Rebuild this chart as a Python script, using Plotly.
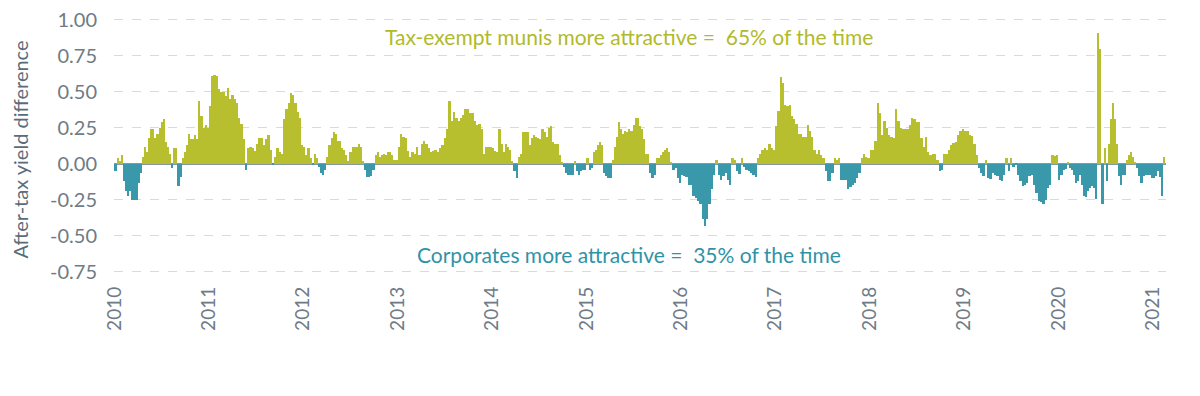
import plotly.graph_objects as go

# After-tax yield difference (munis minus corporates), by year
years = [2010, 2011, 2012, 2013, 2014, 2015, 2016, 2017, 2018, 2019, 2020, 2021]

y2010 = [-0.05, 0.04, 0.02, 0.06, -0.12, -0.185, -0.225, -0.19, -0.25, -0.25, -0.25, -0.13, -0.06, 0.05,
         0.12, 0.08, 0.18, 0.24, 0.24, 0.18, 0.21, 0.25, 0.29, 0.31, 0.15, 0.12, 0.07, -0.03, 0.11, 0.11,
         -0.155, -0.09, 0.04, 0.08, 0.13, 0.21, 0.17, 0.17, 0.20, 0.17, 0.44, 0.33, 0.25, 0.27, 0.25]
y2011 = [0.40, 0.61, 0.62, 0.61, 0.52, 0.50, 0.50, 0.47, 0.53, 0.45, 0.48, 0.45, 0.42, 0.32, 0.28, 0.17,
         -0.04, 0.11, 0.12, 0.11, 0.09, 0.14, 0.18, 0.18, 0.13, 0.17, 0.20, 0.10, -0.01, 0.05, 0.11, 0.08,
         0.07, 0.31, 0.38, 0.42, 0.49, 0.48, 0.42, 0.36, 0.32, 0.13]
y2012 = [0.12, 0.06, 0.11, 0.04, -0.01, 0.07, 0.04, -0.02, -0.06, -0.075, -0.04, 0.05, 0.13, 0.18, 0.22,
         0.21, 0.16, 0.16, 0.11, 0.095, 0.06, 0.02, 0.08, 0.12, 0.12, 0.12, 0.14, 0.12, 0.02, -0.04, -0.09,
         -0.09, -0.085, -0.04, 0.065, 0.08, 0.05, 0.06, 0.07, 0.06, 0.08, 0.08, 0.06, 0.03, 0.03]
y2013 = [0.12, 0.21, 0.19, 0.18, 0.09, 0.05, 0.08, 0.07, 0.12, 0.06, 0.14, 0.16, 0.14, 0.11, 0.08, 0.09,
         0.10, 0.08, 0.11, 0.13, 0.18, 0.24, 0.44, 0.30, 0.36, 0.32, 0.30, 0.32, 0.34, 0.38, 0.38, 0.35,
         0.355, 0.30, 0.27, 0.28, 0.24, 0.07, 0.12, 0.12, 0.12]
y2014 = [0.11, 0.09, 0.08, 0.24, 0.14, 0.08, 0.14, 0.12, 0.10, 0.02, -0.05, -0.10, 0.05, 0.07, 0.22, 0.22,
         0.22, 0.13, 0.18, 0.20, 0.19, 0.18, 0.17, 0.245, 0.22, 0.19, 0.25, 0.26, 0.15, 0.14, 0.14, 0.06,
         0.01, -0.02, -0.06, -0.08, -0.075, -0.08, 0.02, -0.05, -0.075, -0.05, -0.04, -0.04]
y2015 = [0.04, -0.04, -0.03, 0.08, 0.10, 0.13, 0.15, 0.13, -0.06, -0.085, -0.10, -0.10, 0.03, 0.12, 0.19,
         0.29, 0.24, 0.21, 0.23, 0.22, 0.24, 0.23, 0.27, 0.32, 0.32, 0.26, 0.24, 0.17, 0.07, 0.07, -0.06,
         -0.10, -0.075, 0.04, 0.04, 0.06, 0.08, 0.10, 0.11, 0.08, 0.01, -0.04, -0.03, -0.10, -0.13]
y2016 = [-0.075, -0.085, -0.09, -0.145, -0.145, -0.225, -0.235, -0.26, -0.275, -0.385, -0.43, -0.385,
         -0.275, -0.175, -0.075, 0.025, -0.075, -0.115, -0.085, -0.06, -0.115, -0.145, 0.04, 0.03, -0.05,
         -0.07, 0.04, -0.02, -0.04, -0.05, -0.06, -0.075, -0.09, 0.04, 0.07, 0.095, 0.11, 0.095, 0.14,
         0.11, 0.095]
y2017 = [0.26, 0.365, 0.60, 0.56, 0.41, 0.40, 0.41, 0.33, 0.31, 0.28, 0.21, 0.21, 0.19, 0.19, 0.27, 0.23,
         0.19, 0.095, 0.07, 0.10, 0.06, 0.04, -0.05, -0.12, -0.12, -0.06, 0.04, 0.03, 0.04, -0.115, -0.115,
         -0.115, -0.175, -0.16, -0.145, -0.13, -0.10, -0.06, 0.04, 0.07, 0.05, 0.04]
y2018 = [0.10, 0.10, 0.16, 0.42, 0.355, 0.20, 0.30, 0.25, 0.20, 0.19, 0.18, 0.38, 0.30, 0.25, 0.24, 0.24,
         0.24, 0.27, 0.32, 0.31, 0.29, 0.29, 0.18, 0.12, 0.19, 0.08, 0.06, 0.07, 0.07, 0.03, -0.05, -0.04,
         0.07, 0.07, 0.10, 0.13, 0.145, 0.15, 0.20, 0.23, 0.24]
y2019 = [0.23, 0.23, 0.20, 0.195, 0.14, 0.06, -0.03, -0.06, -0.085, 0.03, -0.10, -0.105, -0.06, -0.075,
         -0.085, -0.11, -0.12, -0.075, 0.04, -0.05, 0.04, -0.02, -0.01, -0.075, -0.12, -0.155, -0.145,
         -0.13, -0.085, -0.075, -0.145, -0.20, -0.26, -0.265, -0.28, -0.25, -0.165, -0.145, 0.06, 0.055,
         0.06]
y2020 = [-0.11, -0.075, -0.04, -0.035, 0.01, -0.03, -0.04, -0.075, -0.13, -0.12, -0.075, -0.145, -0.22,
         -0.23, -0.19, -0.165, -0.155, -0.165, -0.245, 0.91, 0.80, -0.28, 0.11, -0.12, 0.14, 0.31, 0.42,
         0.31, 0.14, -0.085, -0.145, -0.08, -0.08, 0.03, 0.065, 0.08, 0.05, 0.01, -0.03, -0.085, -0.13,
         -0.085, -0.08, -0.075, -0.075, -0.10]
y2021 = [-0.10, -0.085, -0.05, -0.09, -0.22, 0.05]

series = [y2010, y2011, y2012, y2013, y2014, y2015, y2016, y2017, y2018, y2019, y2020, y2021]
bars_per_full_year_2021 = 46  # partial year: same bar width as 2020

year_ticks = years
year_labels = [str(y) for y in years]
y_ticks = [-0.75, -0.5, -0.25, 0.0, 0.25, 0.5, 0.75, 1.0]
y_labels = ["-0.75", "-0.50", "-0.25", "0.00", "0.25", "0.50", "0.75", "1.00"]

GREEN = "#B7BF2F"
TEAL = "#3A98AB"

xs, ys, ws, cs = [], [], [], []
for yr, vals in zip(years, series):
    n = len(vals) if yr != 2021 else bars_per_full_year_2021
    for i, v in enumerate(vals):
        xs.append(yr + (i + 0.5) / n)
        ys.append(v)
        ws.append(1.0 / n)
        cs.append(GREEN if v >= 0 else TEAL)

fig = go.Figure(go.Bar(x=xs, y=ys, width=ws, marker=dict(color=cs, line=dict(width=0)),
                       hoverinfo="skip"))

FONT = "Lato, 'Open Sans', sans-serif"
fig.update_layout(
    width=1200, height=396,
    margin=dict(l=106, r=42, t=9, b=122),
    paper_bgcolor="white", plot_bgcolor="white",
    showlegend=False, bargap=0,
    font=dict(family=FONT, color="#6f7b85"),
    annotations=[
        dict(text="Tax-exempt munis more attractive =  65% of the time", x=0.49, xref="paper",
             y=0.885, yref="y", showarrow=False, font=dict(size=21, color="#B1BA2A", family=FONT)),
        dict(text="Corporates more attractive =  35% of the time", x=0.49, xref="paper",
             y=-0.63, yref="y", showarrow=False, font=dict(size=21, color="#2F93A8", family=FONT)),
    ],
)
fig.update_xaxes(range=[2009.995, 2021.14], tickmode="array", tickvals=year_ticks, ticktext=year_labels,
                 tickangle=-90, showgrid=False, zeroline=False, showline=False, ticks="",
                 automargin=False,
                 tickfont=dict(size=19, color="#6f7b85"))
fig.update_yaxes(range=[-0.82, 1.02], tickmode="array", tickvals=y_ticks, ticktext=y_labels,
                 showgrid=True, gridcolor="#d6dbde", griddash="dash", gridwidth=1,
                 zeroline=True, zerolinecolor="#8a98a2", zerolinewidth=2, showline=False,
                 ticks="outside", ticklen=12, tickcolor="rgba(0,0,0,0)",
                 ticklabeloverflow="allow", automargin=False,
                 tickfont=dict(size=20, color="#6f7b85"),
                 title=dict(text="After-tax yield difference", font=dict(size=20, color="#5b6c79"),
                            standoff=20))

fig.write_html("out.html")
